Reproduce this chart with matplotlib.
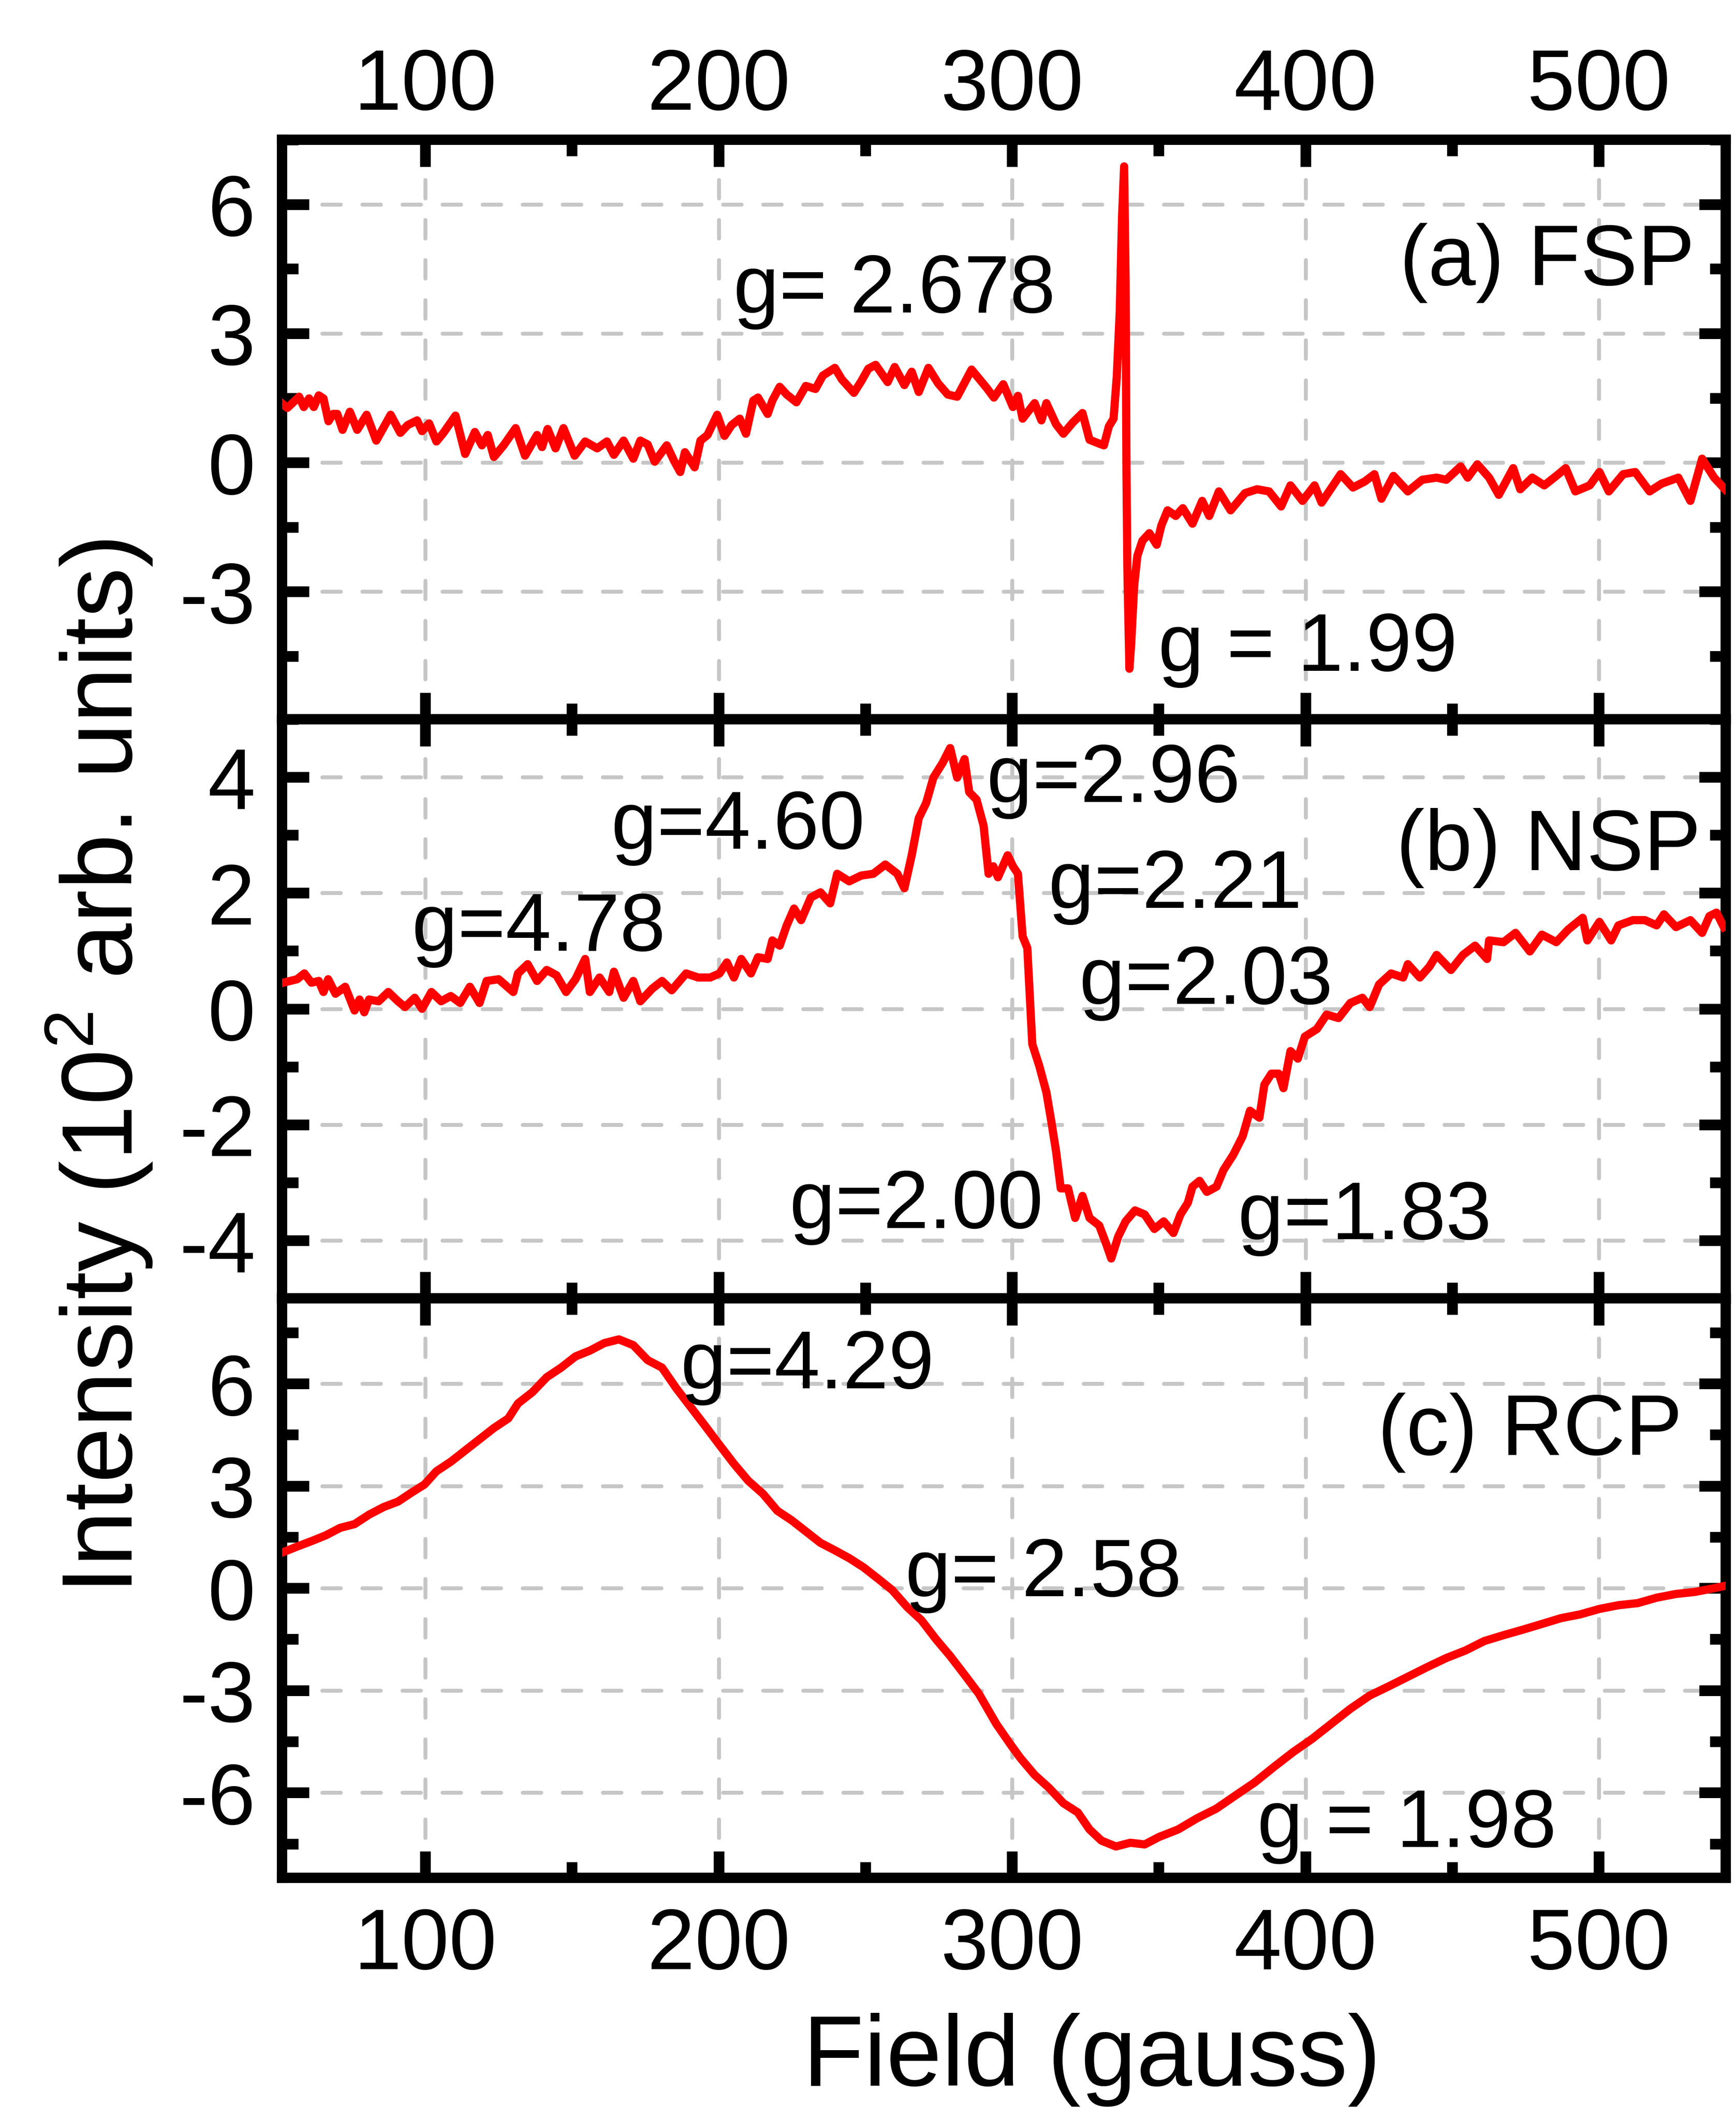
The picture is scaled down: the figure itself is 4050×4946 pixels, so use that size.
import matplotlib
matplotlib.use('Agg')
import matplotlib.pyplot as plt
from matplotlib.ticker import MultipleLocator

plt.rcParams['font.family'] = ['Liberation Sans', 'DejaVu Sans']
plt.rcParams['mathtext.fontset'] = 'custom'
plt.rcParams['mathtext.rm'] = 'Liberation Sans'
plt.rcParams['axes.unicode_minus'] = False

### data
# (a) FSP
fsp_x = [51.4, 53, 57, 58.6, 60.4, 62, 63.7, 65.3, 67, 68.6,
         70, 71.8, 74.3, 76.8, 80, 83.3, 88.2, 91.5, 94, 97.2,
         98.9, 101.3, 103.8, 106.2, 110.3, 113.6, 116.9, 119.3, 121.3, 123.4,
         126.7, 130.8, 134, 138.1, 139.8, 141.7, 144.4, 147.1, 150.9, 154.5,
         158.6, 161.9, 164.3, 167.6, 170.9, 173.3, 175.8, 178.2, 182.3, 184.8,
         186.9, 188.5, 191.8, 193.8, 196.2, 199.5, 202, 204.4, 207.2, 209.3,
         211.8, 213.4, 216.7, 218.3, 220.8, 223.2, 226.5, 229.7, 233, 235.5,
         239.6, 242, 246.1, 248.6, 251, 253.5, 257.6, 260, 263.3, 265.8,
         268.2, 271.5, 274.8, 278.1, 281.3, 286.2,
         291.4, 293.8, 297, 300.3, 302, 303.6, 307.7, 310, 311.7, 315,
         317.5, 320.7, 324, 326.4, 329.7, 331.3, 333, 334.6, 335.7, 336.7,
         337.5, 338.2, 338.7, 339, 339.3, 340, 340.6, 341.6, 342.7, 344.4,
         346.8, 349.3, 350.9, 353, 355.8, 358.2, 361.5, 364.8, 367.2, 370.5,
         374.5, 379.4, 383.5, 387.6, 391.7, 394.9, 399, 403.1, 405.5, 412,
         416.2, 420.2, 423.5, 425.9, 430, 434.9, 439.8, 444.7, 448, 452.9,
         455.3, 458.6, 462.6, 465.9, 470.8, 473.2, 477.3, 481.4, 485.5, 488.7,
         492, 496.9, 500.2, 503.4, 508.3, 512.4, 517.3, 521.4, 527.1, 531.2,
         535.2, 539.3, 543]
fsp_y = [1.36, 1.27, 1.53, 1.29, 1.49, 1.29, 1.56, 1.49, 0.96, 1.13,
         1.13, 0.76, 1.18, 0.76, 1.11, 0.51, 1.11, 0.69, 0.87, 0.98,
         0.73, 0.91, 0.49, 0.69, 1.09, 0.20, 0.71, 0.40, 0.64, 0.13,
         0.40, 0.80, 0.16, 0.64, 0.36, 0.78, 0.33, 0.80, 0.16, 0.49,
         0.33, 0.49, 0.18, 0.51, 0.09, 0.51, 0.42, 0.02, 0.40, 0.04,
         -0.22, 0.24, -0.11, 0.51, 0.64, 1.11, 0.62, 0.87, 1.02, 0.67,
         1.44, 1.51, 1.13, 1.44, 1.76, 1.58, 1.40, 1.78, 1.71, 2.02,
         2.20, 1.93, 1.62, 1.89, 2.18, 2.27, 1.87, 2.22, 1.80, 2.11,
         1.64, 2.20, 1.84, 1.58, 1.53, 2.16,
         1.73, 1.51, 1.82, 1.29, 1.55, 1.02, 1.38, 0.98, 1.38, 0.89,
         0.67, 0.93, 1.15, 0.53, 0.44, 0.40, 0.84, 1.02, 2.00, 3.50,
         5.72, 6.88, 4.21, -0.22, -2.44, -4.79, -4.21, -2.88, -2.17, -1.82,
         -1.64, -1.91, -1.46, -1.11, -1.24, -1.06, -1.42, -0.89, -1.24, -0.67,
         -1.11, -0.71, -0.62, -0.67, -1.02, -0.53, -0.89, -0.53, -0.93, -0.27,
         -0.58, -0.44, -0.27, -0.84, -0.31, -0.67, -0.40, -0.35, -0.40, -0.09,
         -0.35, -0.04, -0.35, -0.75, -0.13, -0.62, -0.35, -0.53, -0.31, -0.13,
         -0.67, -0.53, -0.22, -0.67, -0.27, -0.22, -0.67, -0.49, -0.35, -0.89,
         0.09, -0.35, -0.62]

# (b) NSP
nsp_x = [51.5, 56.3, 58.8, 61.2, 63.7, 65.3, 66.9, 69.4, 72.7, 75.9,
         77.6, 79.2, 80.8, 84.1, 87.4, 90.7, 93.1, 96.4, 98.9, 102.1,
         105.4, 108.7, 111.9, 115.2, 118.5, 120.9, 125, 130, 131.6, 134.9,
         138.1, 141.4, 144.7, 148, 151.2, 154.5, 156.1, 159.4, 162.7, 164.3,
         167.6, 170.9, 173.3, 177.4, 180.7, 184, 188.9, 193, 197.1, 200.3,
         202.8, 205.2, 207.7, 211, 213.4, 216.7, 218.3, 220.8, 223.2, 225.7,
         228.1, 231.4, 234.7, 238, 240.4, 244.5, 248.6, 252.7, 256.8, 260.9,
         263.3, 265.8, 268.2, 270.7, 273.2, 276.4, 278.9, 281.3, 283.8, 285.4,
         287.9, 290.3, 292, 293.6, 295.2, 298.5,
         300.3, 302, 303.6, 305.2, 306.9, 309.3, 311.7, 313.4, 315, 316.6,
         319.1, 321.5, 324, 326.4, 329.7, 332.1, 333.8, 336.2, 338.7, 341.9,
         345.2, 348.5, 351.7, 355, 357.4, 359.9, 361.5, 363.9, 366.4, 369.7,
         372.1, 375.4, 378.6, 381.1, 384.3, 386, 388.4, 390.9, 392.5, 394.9,
         397.4, 399.8, 403.9, 407.2, 411.3, 415.3, 419.4, 421.9, 425.1, 429.2,
         433.3, 434.9, 439, 442.3, 444.7, 449.6, 453.7, 457.8, 461.9, 462.6,
         467.5, 471.6, 476.5, 480.6, 485.5, 489.6, 494.5, 496.1, 500.2, 504.2,
         506.7, 511.6, 515.7, 519.7, 522.2, 526.3, 531.2, 535.2, 537.7, 540.1,
         542.6]
nsp_y = [0.45, 0.51, 0.61, 0.45, 0.48, 0.29, 0.51, 0.26, 0.38, -0.03,
         0.16, -0.06, 0.16, 0.13, 0.29, 0.13, 0.03, 0.19, 0.00, 0.29,
         0.13, 0.22, 0.10, 0.38, 0.10, 0.48, 0.51, 0.29, 0.61, 0.77,
         0.48, 0.67, 0.58, 0.29, 0.51, 0.86, 0.29, 0.54, 0.29, 0.64,
         0.19, 0.48, 0.13, 0.35, 0.48, 0.32, 0.61, 0.54, 0.54, 0.61,
         0.80, 0.54, 0.86, 0.61, 0.89, 0.86, 1.18, 1.09, 1.44, 1.73,
         1.53, 1.92, 2.01, 1.82, 2.33, 2.20, 2.30, 2.33, 2.49, 2.33,
         2.08, 2.65, 3.29, 3.55, 3.99, 4.25, 4.50, 3.99, 4.31, 3.74,
         3.61, 3.16, 2.33, 2.46, 2.27, 2.65,
         2.46, 2.33, 1.25, 1.05, -0.61, -0.99, -1.44, -1.95, -2.46, -3.10,
         -3.10, -3.61, -3.23, -3.61, -3.74, -4.06, -4.31, -3.93, -3.67, -3.48,
         -3.55, -3.80, -3.67, -3.87, -3.55, -3.35, -3.07, -2.97, -3.16, -3.07,
         -2.78, -2.52, -2.20, -1.76, -1.88, -1.31, -1.12, -1.12, -1.37, -0.73,
         -0.86, -0.48, -0.35, -0.10, -0.16, 0.10, 0.19, 0.03, 0.42, 0.61,
         0.54, 0.77, 0.54, 0.73, 0.93, 0.67, 0.93, 1.09, 0.86, 1.18,
         1.15, 1.31, 0.99, 1.28, 1.15, 1.37, 1.57, 1.18, 1.50, 1.18,
         1.44, 1.53, 1.53, 1.44, 1.63, 1.41, 1.53, 1.31, 1.60, 1.66,
         1.41]

# (c) RCP
rcp_x = [51.4, 56.3, 61.2, 66.1, 71, 75.9, 80.9, 85.8, 90.7, 95.6,
         99.7, 103.8, 108.7, 113.6, 118.5, 123.4, 128.3, 131.6, 136.5, 141.4,
         146.3, 151.2, 156.1, 161, 166, 170.9, 175.8, 180.7, 185.6, 190.5,
         195.4, 200.3, 205.2, 210.1, 215.1, 220, 224.9, 229.8, 234.7, 239.6,
         244.5, 249.4, 254.3, 259.2, 264.2, 269.1, 274, 278.9, 283.8, 288.7,
         294.6, 299.5, 302.8, 307.7, 312.6, 317.5, 322.4, 326.4, 330.5, 335.4,
         340.3, 345.2, 350.1, 356.6, 363.1, 369.6, 376.2, 382.7, 389.2, 395.8,
         402.3, 408.8, 415.3, 421.9, 428.4, 434.9, 441.4, 448, 454.5, 461,
         467.5, 474, 480.6, 487.1, 493.6, 500.2, 506.7, 513.2, 519.7, 526.3,
         532.8, 539.3, 542.6]
rcp_y = [1.05, 1.22, 1.38, 1.55, 1.77, 1.88, 2.16, 2.38, 2.54, 2.82,
         3.04, 3.43, 3.71, 4.04, 4.37, 4.70, 4.98, 5.42, 5.75, 6.19,
         6.47, 6.80, 6.97, 7.19, 7.30, 7.13, 6.69, 6.47, 5.86, 5.31,
         4.76, 4.20, 3.65, 3.15, 2.77, 2.27, 1.99, 1.66, 1.33, 1.11,
         0.88, 0.61, 0.28, -0.06, -0.55, -0.94, -1.49, -1.99, -2.54, -3.10,
         -3.98, -4.59, -4.98, -5.48, -5.86, -6.31, -6.58, -7.08, -7.41, -7.58,
         -7.47, -7.52, -7.30, -7.08, -6.75, -6.47, -6.08, -5.70, -5.25, -4.81,
         -4.42, -3.98, -3.54, -3.15, -2.88, -2.60, -2.32, -2.05, -1.83, -1.55,
         -1.38, -1.22, -1.05, -0.88, -0.77, -0.61, -0.50, -0.44, -0.28, -0.17,
         -0.11, 0.00, 0.06]

series = [(fsp_x, fsp_y), (nsp_x, nsp_y), (rcp_x, rcp_y)]
ylims = [(-5.96, 7.5), (-5.0, 5.0), (-8.5, 8.5)]
ysteps = [3, 2, 3]
panel_labels = ['(a) FSP', '(b) NSP', '(c) RCP']
panel_label_pos = [(532.7, 4.13), (534.7, 2.40), (528.5, 3.93)]

# g-value labels: (panel, x, y, text)
g_labels = [
    (0, 205, 3.50, 'g= 2.678'),
    (0, 349.8, -4.83, 'g = 1.99'),
    (1, 95.5, 1.01, 'g=4.78'),
    (1, 163.4, 2.77, 'g=4.60'),
    (1, 291.4, 3.58, 'g=2.96'),
    (1, 312.4, 1.75, 'g=2.21'),
    (1, 322.9, 0.09, 'g=2.03'),
    (1, 224.2, -3.78, 'g=2.00'),
    (1, 377, -3.97, 'g=1.83'),
    (2, 187, 5.87, 'g=4.29'),
    (2, 263.6, -0.22, 'g= 2.58'),
    (2, 383.5, -7.58, 'g = 1.98'),
]

### figure
fig = plt.figure(figsize=(13.5, 16.49), dpi=300)
gs = fig.add_gridspec(3, 1, left=0.1625, right=0.994, top=0.9339,
                      bottom=0.1142, hspace=0)
axes = [fig.add_subplot(gs[i]) for i in range(3)]

for i, ax in enumerate(axes):
    x, y = series[i]
    ax.plot(x, y, color='#ff0000', lw=4.6, zorder=3)
    ax.set_xlim(51.2, 543.2)
    ax.set_ylim(*ylims[i])

    # ticks
    ax.xaxis.set_major_locator(MultipleLocator(100))
    ax.xaxis.set_minor_locator(MultipleLocator(50))
    ax.yaxis.set_major_locator(MultipleLocator(ysteps[i]))
    ax.yaxis.set_minor_locator(MultipleLocator(ysteps[i] / 2))
    ax.tick_params(which='both', direction='in', top=True, right=True,
                   width=6, color='black', labelsize=48)
    ax.tick_params(which='major', length=15)
    ax.tick_params(which='minor', length=9)
    ax.tick_params(axis='y', pad=15)
    ax.tick_params(axis='x', labelbottom=(i == 2), labeltop=(i == 0),
                   pad=(7 if i == 0 else 16))

    # grid
    ax.grid(True, which='major', color='#c6c6c6', lw=2.2,
            linestyle=(0, (4.7, 5.5)), dash_capstyle='round', zorder=0)
    ax.set_axisbelow(True)

    for sp in ax.spines.values():
        sp.set_linewidth(5.8)

    ax.text(panel_label_pos[i][0], panel_label_pos[i][1], panel_labels[i],
            fontsize=48, ha='right', va='baseline', zorder=4)

for p, gx, gy, txt in g_labels:
    axes[p].text(gx, gy, txt, fontsize=46, ha='left', va='baseline', zorder=4)

### axis labels
fig.text(0.629, 0.0164, 'Field (gauss)', fontsize=56, ha='center',
         va='baseline')
fig.text(0.057, 0.497, 'Intensity (10$^{\\mathregular{2}}$ arb. units)',
         fontsize=56, rotation=90, ha='center', va='center')

fig.savefig('out.png', dpi=300)
